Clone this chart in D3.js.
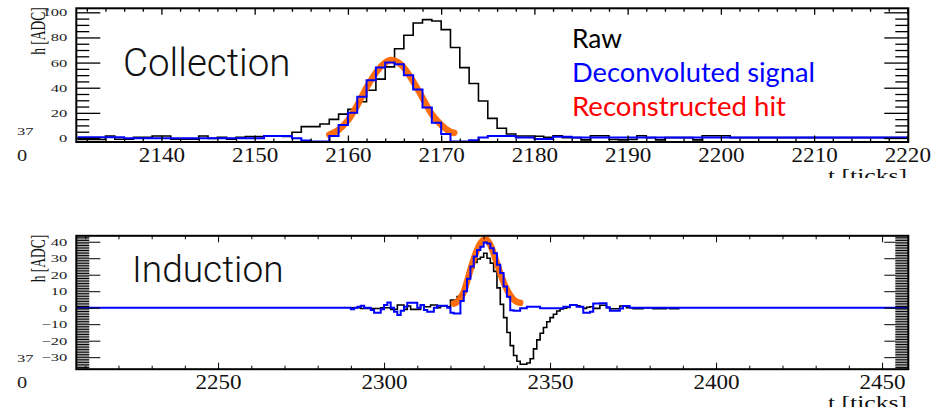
<!DOCTYPE html>
<html>
<head>
<meta charset="utf-8">
<script src="https://cdn.jsdelivr.net/npm/d3@7"></script>
<style>
body{margin:0;background:#fff}
svg{display:block}
</style>
</head>
<body>
<svg width="933" height="407"></svg>
<script>
// collection plane, one bin per tick starting at colT0
var colT0 = 2131
var colRaw = [-1.2, -1.2, -1.2, 1.6, -1, -1, 0.5, 0.5, 1.6, 1.6,
  -1, -1, -1, 1.6, -0.3, 0.5, -1, 0.5, 1.2, 1.2,
  1.6, 1.6, 1.2, 4.5, 9, 9, 11.1, 14.8, 19, 22.8,
  28.8, 38, 46.8, 56.6, 71, 81.7, 91.5, 94.2, 93.1, 86.2,
  72, 56, 43.4, 29.4, 15.6, 7.7, 3.2, 1.6, 1.6, 1.4,
  0.5, 1.8, 0.3, 0.3, -1.5, 1.8, 1.8, -1.2, -1.5, -1.2,
  1.8, 0.3, -1.5, 0.3, 0.3, 0.3, -1.5, 1.8, 1.8, 1.8,
  0.3, 0.3, 0.3, 0.3, 0.3, 0.3, 0.3, 0.3, 0.3, 0.3,
  0.3, 0.3, 0.3, 0.3, 0.3, 0.3, 0.3, 0.3, 0.3]
var colDecon = [0.5, 0.5, 0.5, 0.5, 0.5, -0.3, -0.3, -0.3, -0.3, -0.3,
  -0.3, -0.3, -0.3, -0.3, -0.3, -0.3, -0.3, -0.3, -0.3, -0.3,
  1.6, 1.6, 1.6, -0.3, -2.1, -2.9, -2.9, 1.6, 10.3, 20.1,
  32.8, 46, 56, 60, 58.7, 50, 38.6, 24.3, 12.2, 3.2,
  -2.9, -2.9, -1.9, 0.3, 1.6, 1.6, 1.6, 0.3, 0.3, -0.8,
  -0.8, 1.0, 1.0, 0.3, 0.3, 0.3, 0.3, 0.3, 0.3, 0.3,
  0.3, 0.3, 0.3, 0.3, 0.3, 0.3, 0.3, 0.3, 0.3, 0.3,
  0.3, 0.3, 0.3, 0.3, 0.3, 0.3, 0.3, 0.3, 0.3, 0.3,
  0.3, 0.3, 0.3, 0.3, 0.3, 0.3, 0.3, 0.3, 0.3]
var colHitT = [2158, 2159, 2160, 2161, 2162, 2163, 2164, 2164.6, 2165, 2166, 2167, 2168, 2169, 2170, 2171, 2171.4]
var colHitV = [2.5, 6.5, 14, 26, 40, 52, 60, 62, 61.5, 56, 45, 32, 19, 10.5, 5, 4]
var colXTicks = [2140, 2150, 2160, 2170, 2180, 2190, 2200, 2210, 2220]
var colYTicks = [0, 20, 40, 60, 80, 100]

// induction plane
var indRawT0 = 2290
var indRaw = [0, 0, 0, -0.5, -0.5, -0.5, -0.5, -0.5, -0.5, 0,
  0, 0, -1, -1, 1.6, 1.6, -1, 1, -1, -1,
  -1, 1.6, 0.6, 0.6, 1.6, 1.6, 0, 1, 1, 0.6,
  4.7, 4.7, 6.7, 8, 13, 19, 24, 27.5, 29.5, 30.6,
  33, 30, 27, 22, 12, 2, -6, -15, -23, -29,
  -32.5, -34.3, -34.3, -33.5, -31, -25, -19.5, -15.5, -12, -8.5,
  -6, -4, -2, -0.8, -0.3, 0.2, 1.6, 1.6, 1.2, 0.6,
  -0.4, 0.3, 0.6, -0.4, -0.4, 1.5, 1.5, 0, -0.6, -0.6,
  -0.6, 1, 1, 0, 0, -0.6, -0.6, -0.6, 0, 0,
  0, -0.6, -0.6, -0.6, -0.6, 0, -0.6, -0.6, -0.6]
var indDeconT0 = 2284
var indDecon = [0, 0, 0, 0, 0, 0,
  -1, 0, 0.5, 1.2, 0, 0, -1.4, -3, -3, -1,
  1.6, 3.2, 0, -2.4, -4.5, -1.8, 0.6, 3, 3, 3,
  0, 1.6, -1.4, -2.4, -2.4, 0, 1.2, 1.2, 1.2, 0,
  -3, -3.5, -3.5, 4, 10, 17.5, 25, 31, 35, 37,
  39.6, 39, 36, 33, 26, 21, 12.8, 6.7, -1.5, -1.8,
  -1.8, -0.4, -0.4, 0.6, 0.6, 0.6, 0.6, -0.4, -0.4, -0.4,
  -0.4, -0.4, -0.4, -0.4, 0.6, 0.6, 1.6, 1.6, 0.6, 0.6,
  -3, -3, -2.4, 2.6, 2.6, 2.7, 2.7, 0.2, -1.8, -1.8,
  -1.8, -0.5, 1, 1, 0]
var indHitT = [2321, 2322, 2323, 2324, 2325, 2326, 2327, 2328, 2329, 2330, 2331, 2332, 2333, 2334, 2335, 2336, 2337, 2338, 2339, 2340, 2341]
var indHitV = [2.5, 3.5, 6, 9.5, 16, 23, 29.5, 35, 39, 41, 41, 38, 33, 27, 21, 15.5, 11, 7.5, 5, 3.5, 3]
var indXTicks = [2250, 2300, 2350, 2400, 2450]
var indYTicks = [-30, -20, -10, 0, 10, 20, 30, 40]

var legendNames = ['Raw', 'Deconvoluted signal', 'Reconstructed hit']
var legendColors = ['#000', '#0000ff', '#ff0000']

var svg = d3.select('svg')
var serif = '"Liberation Serif", "DejaVu Serif", serif'
var frameL = 76.3, frameR = 908.3

function hist(t0, vals){
  var pts = vals.map((v, i) => [t0 + i, v])
  pts.push([t0 + vals.length, vals[vals.length - 1]])
  return pts
}

function drawPanel(p){
  var g = svg.append('g')
  var x = d3.scaleLinear().domain(p.xDomain).range([frameL, frameR])
  var y = d3.scaleLinear().domain(p.yDomain).range([p.bottom, p.top])

  var clipId = 'clip' + p.id
  svg.append('clipPath').attr('id', clipId)
    .append('rect')
    .attr('x', frameL).attr('y', p.top)
    .attr('width', frameR - frameL).attr('height', p.bottom - p.top)

  var line = d3.line().x(d => x(d[0])).y(d => y(d[1])).curve(d3.curveStepAfter)
  var smooth = d3.line().x(d => x(d[0])).y(d => y(d[1])).curve(d3.curveMonotoneX)

  var plot = g.append('g').attr('clip-path', 'url(#' + clipId + ')')

  plot.append('path')
    .attr('d', line(p.raw))
    .attr('fill', 'none').attr('stroke', '#000').attr('stroke-width', 1.6)

  plot.append('path')
    .attr('d', smooth(p.hit))
    .attr('fill', 'none').attr('stroke', '#ff6600').attr('stroke-width', 6.5)
    .attr('stroke-linecap', 'round').attr('stroke-opacity', 0.95)

  plot.append('path')
    .attr('d', line(p.decon))
    .attr('fill', 'none').attr('stroke', '#0000ff').attr('stroke-width', 2)

  // x axes, ticks pointing into the frame
  var xb = g.append('g').attr('transform', 'translate(0,' + p.bottom + ')')
    .call(d3.axisBottom(x).tickValues(p.xTicks).tickSize(-6.5).tickPadding(5).tickFormat(d3.format('d')))
  xb.call(a => a.select('.domain').remove())
  xb.selectAll('text')
    .attr('font-family', serif).attr('font-size', 21).attr('fill', '#111')
    .attr('transform', 'scale(1.1,1)')
    .attr('dy', '0.72em')
  g.append('g').attr('transform', 'translate(0,' + p.bottom + ')')
    .call(d3.axisBottom(x).tickValues(p.xMinor).tickSize(-3.5).tickFormat(''))
    .call(a => a.select('.domain').remove())
  g.append('g').attr('transform', 'translate(0,' + p.top + ')')
    .call(d3.axisTop(x).tickValues(p.xTicks).tickSize(-6.5).tickFormat(''))
    .call(a => a.select('.domain').remove())
  g.append('g').attr('transform', 'translate(0,' + p.top + ')')
    .call(d3.axisTop(x).tickValues(p.xMinor).tickSize(-3.5).tickFormat(''))
    .call(a => a.select('.domain').remove())

  // y axes
  var yl = g.append('g').attr('transform', 'translate(' + frameL + ',0)')
    .call(d3.axisLeft(y).tickValues(p.yTicks).tickSize(-24).tickPadding(6).tickFormat(d => d < 0 ? '\u2212' + (-d) : d))
  yl.call(a => a.select('.domain').remove())
  yl.selectAll('text')
    .attr('font-family', serif).attr('font-size', 11).attr('fill', '#222')
    .attr('transform', 'scale(1.5,1)')
  g.append('g').attr('transform', 'translate(' + frameL + ',0)')
    .call(d3.axisLeft(y).tickValues(p.yMinor).tickSize(-13).tickFormat(''))
    .call(a => a.select('.domain').remove())
  g.append('g').attr('transform', 'translate(' + frameR + ',0)')
    .call(d3.axisRight(y).tickValues(p.yTicks).tickSize(-24).tickFormat(''))
    .call(a => a.select('.domain').remove())
  g.append('g').attr('transform', 'translate(' + frameR + ',0)')
    .call(d3.axisRight(y).tickValues(p.yMinor).tickSize(-13).tickFormat(''))
    .call(a => a.select('.domain').remove())
  g.selectAll('.tick line').attr('stroke', '#000').attr('stroke-width', p.tickWidth)

  g.append('rect')
    .attr('x', frameL).attr('y', p.top)
    .attr('width', frameR - frameL).attr('height', p.bottom - p.top)
    .attr('fill', 'none').attr('stroke', '#000').attr('stroke-width', 2)

  // axis titles, cut off like in the screenshot
  var cutId = 'cut' + p.id
  svg.append('clipPath').attr('id', cutId)
    .append('rect').attr('x', 0).attr('y', p.top - 10).attr('width', 933).attr('height', p.cutBottom - p.top + 10)
  var titles = g.append('g').attr('clip-path', 'url(#' + cutId + ')')
  titles.append('text')
    .attr('transform', 'translate(907,' + (p.bottom + 40) + ') scale(1.35,1)')
    .attr('text-anchor', 'end')
    .attr('font-family', serif).attr('font-size', 19).attr('fill', '#111')
    .text('t [ticks]')
  titles.append('text')
    .attr('transform', 'translate(44.5,' + (p.top - 1) + ') scale(1.5,1) rotate(-90)')
    .attr('text-anchor', 'end')
    .attr('font-family', serif).attr('font-size', 13.5).attr('fill', '#111')
    .text('h [ADC]')
  titles.append('text')
    .attr('transform', 'translate(17,' + (p.bottom - 7) + ') scale(1.5,1)')
    .attr('font-family', serif).attr('font-size', 11).attr('fill', '#222')
    .text('37')
  titles.append('text')
    .attr('transform', 'translate(17,' + (p.bottom + 19) + ') scale(1.2,1)')
    .attr('font-family', serif).attr('font-size', 17).attr('fill', '#222')
    .text('0')

  svg.append('text')
    .attr('x', p.labelX).attr('y', p.labelY)
    .attr('font-family', 'Roboto, Lato, "Open Sans", sans-serif').attr('font-weight', 300)
    .attr('font-size', p.labelSize).attr('fill', '#111')
    .text(p.label)

  return {x, y}
}

drawPanel({
  id: 'col', label: 'Collection', labelX: 123, labelY: 76, labelSize: 38.5,
  top: 8.3, bottom: 142, cutBottom: 178, tickWidth: 1.3,
  xDomain: [2130.87, 2220.1], yDomain: [-3.2, 103.2],
  raw: hist(colT0, colRaw), decon: hist(colT0, colDecon),
  hit: colHitT.map((t, i) => [t, colHitV[i]]),
  xTicks: colXTicks, xMinor: d3.range(2132, 2220, 2).filter(d => d % 10),
  yTicks: colYTicks, yMinor: d3.range(0, 101, 5).filter(d => d % 20)
})

var indDomain = [2207.3, 2457.9]
drawPanel({
  id: 'ind', label: 'Induction', labelX: 132, labelY: 282, labelSize: 37,
  top: 235.8, bottom: 369.2, cutBottom: 407, tickWidth: 1,
  xDomain: indDomain, yDomain: [-37.3, 43.6],
  raw: hist(indRawT0, indRaw),
  decon: [[indDomain[0], 0]].concat(hist(indDeconT0, indDecon), [[indDomain[1], 0]]),
  hit: indHitT.map((t, i) => [t, indHitV[i]]),
  xTicks: indXTicks, xMinor: d3.range(2210, 2458, 10).filter(d => d % 50),
  yTicks: indYTicks, yMinor: d3.range(-37, 44, 1).filter(d => d % 10)
})

// legend of the collection panel
var legendWidths = [50, 243, 214]
svg.append('g').selectAll('text').data(legendNames).join('text')
  .attr('x', 572).attr('y', (d, i) => 48 + i * 34)
  .attr('font-family', 'Lato, "Open Sans", sans-serif').attr('font-size', 26.5)
  .attr('textLength', (d, i) => legendWidths[i]).attr('lengthAdjust', 'spacingAndGlyphs')
  .attr('fill', (d, i) => legendColors[i])
  .text(d => d)
</script>
</body>
</html>
